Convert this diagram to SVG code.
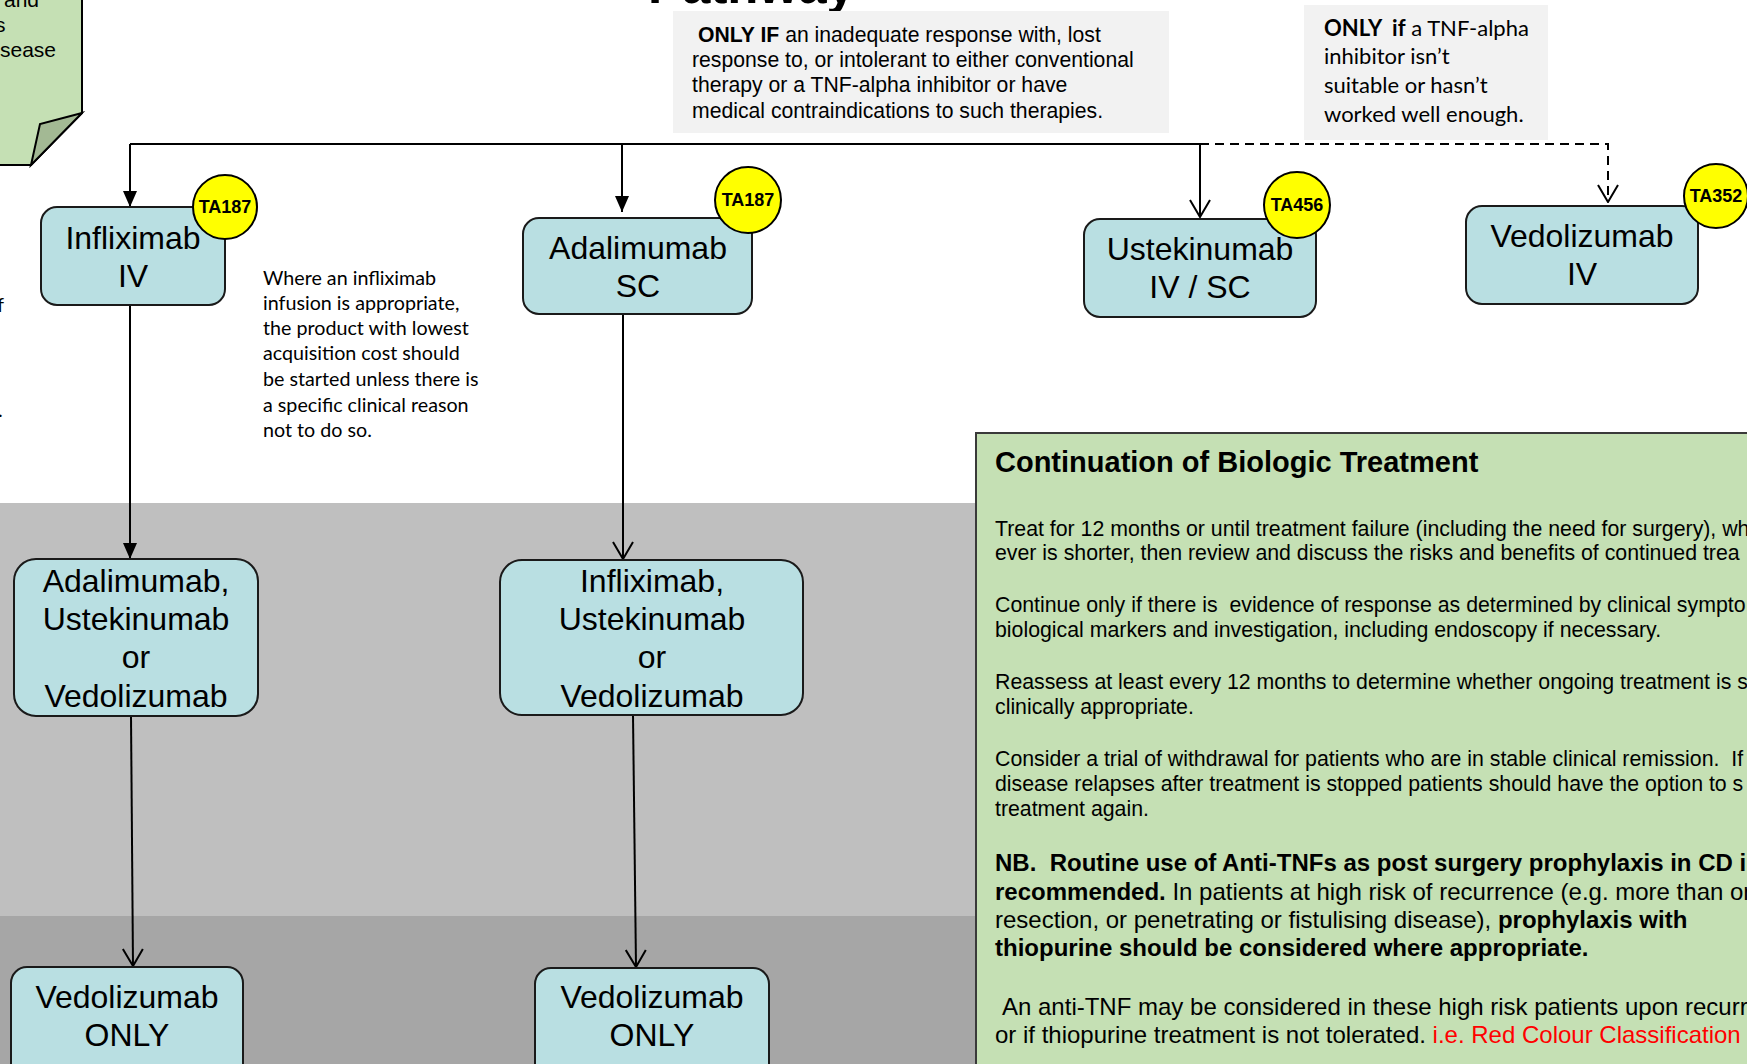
<svg xmlns="http://www.w3.org/2000/svg" width="1747" height="1064" viewBox="0 0 1747 1064">
<defs>
<style>
.node rect{fill:#b9dfe2;stroke:#1a1a1a;stroke-width:2}
.nt{font-family:"Liberation Sans",Arial,sans-serif;font-size:32px;fill:#000;text-anchor:middle}
.badge circle{fill:#ffff00;stroke:#000;stroke-width:2}
.badge text{font-family:"Liberation Sans",Arial,sans-serif;font-size:18px;font-weight:bold;text-anchor:middle;fill:#000}
.conn path{fill:none;stroke:#000;stroke-width:2}
.arial{font-family:"Liberation Sans",Arial,sans-serif;fill:#000}
.cal{font-family:Lato,"Liberation Sans",sans-serif;fill:#000}
.b{font-weight:bold}
</style>
<marker id="af" viewBox="0 0 16 14" refX="16" refY="7" markerWidth="16" markerHeight="14" markerUnits="userSpaceOnUse" orient="auto">
<path d="M0,0 L16,7 L0,14 Z" fill="#000"/>
</marker>
<marker id="ao" viewBox="0 0 19 22" refX="18" refY="11" markerWidth="19" markerHeight="22" markerUnits="userSpaceOnUse" orient="auto">
<path d="M1,1 L18,11 L1,21" fill="none" stroke="#000" stroke-width="2"/>
</marker>
</defs>
<rect x="0" y="0" width="1747" height="1064" fill="#ffffff"/>
<rect x="0" y="503" width="1000" height="413" fill="#bfbfbf"/>
<rect x="0" y="916" width="1000" height="148" fill="#a6a6a6"/>

<g id="title">
<text class="arial b" x="648" y="3" font-size="51">Pathway</text>
</g>

<g id="note-left">
<path d="M-5,-5 H82 V113 L31,165 H-5 Z" fill="#c5e0b4" stroke="#000" stroke-width="2"/>
<path d="M82,113 L40,124 L31,165 Z" fill="#a3b994" stroke="#000" stroke-width="2"/>
<text class="arial" font-size="21" x="4" y="7">and</text>
<text class="arial" font-size="21" x="-5" y="32">s</text>
<text class="arial" font-size="21" x="0" y="57">sease</text>
</g>

<g id="left-fragments">
<text class="cal" font-size="20" x="-3" y="312">f</text>
<text class="cal" font-size="20" x="-2" y="417">.</text>
</g>

<g id="condition-1">
<rect x="673" y="11" width="496" height="122" fill="#f2f2f2"/>
<text class="arial" font-size="21.2"><tspan x="698" y="42"><tspan class="b">ONLY IF</tspan> an inadequate response with, lost</tspan><tspan x="692" y="67">response to, or intolerant to either conventional</tspan><tspan x="692" y="92">therapy or a TNF-alpha inhibitor or have</tspan><tspan x="692" y="118">medical contraindications to such therapies.</tspan></text>
</g>

<g id="condition-2">
<rect x="1304" y="5" width="244" height="135" fill="#f2f2f2"/>
<text class="cal" font-size="22"><tspan x="1324" y="36"><tspan class="b" xml:space="preserve">ONLY  if</tspan> a TNF-alpha</tspan><tspan x="1324" y="64">inhibitor isn’t</tspan><tspan x="1324" y="93">suitable or hasn’t</tspan><tspan x="1324" y="122">worked well enough.</tspan></text>
</g>

<g id="infusion-note">
<text class="cal" font-size="19.7"><tspan x="263" y="285">Where an infliximab</tspan><tspan x="263" y="310">infusion is appropriate,</tspan><tspan x="263" y="335">the product with lowest</tspan><tspan x="263" y="360">acquisition cost should</tspan><tspan x="263" y="386">be started unless there is</tspan><tspan x="263" y="412">a specific clinical reason</tspan><tspan x="263" y="437">not to do so.</tspan></text>
</g>

<g id="continuation">
<rect x="976" y="433" width="790" height="650" fill="#c5e0b4" stroke="#3a3a3a" stroke-width="2"/>
<text class="arial b" font-size="29" x="995" y="472">Continuation of Biologic Treatment</text>
<text class="arial" font-size="21.3">
<tspan x="995" y="536">Treat for 12 months or until treatment failure (including the need for surgery), wh</tspan>
<tspan x="995" y="560">ever is shorter, then review and discuss the risks and benefits of continued trea</tspan>
<tspan x="995" y="612" xml:space="preserve">Continue only if there is  evidence of response as determined by clinical sympto</tspan>
<tspan x="995" y="637">biological markers and investigation, including endoscopy if necessary.</tspan>
<tspan x="995" y="689">Reassess at least every 12 months to determine whether ongoing treatment is s</tspan>
<tspan x="995" y="714">clinically appropriate.</tspan>
<tspan x="995" y="766" xml:space="preserve">Consider a trial of withdrawal for patients who are in stable clinical remission.  If</tspan>
<tspan x="995" y="791">disease relapses after treatment is stopped patients should have the option to s</tspan>
<tspan x="995" y="816">treatment again.</tspan>
</text>
<text class="arial" font-size="24">
<tspan x="995" y="871" class="b" xml:space="preserve">NB.  Routine use of Anti-TNFs as post surgery prophylaxis in CD i</tspan>
<tspan x="995" y="900"><tspan class="b">recommended.</tspan> In patients at high risk of recurrence (e.g. more than or</tspan>
<tspan x="995" y="928">resection, or penetrating or fistulising disease), <tspan class="b">prophylaxis with</tspan></tspan>
<tspan x="995" y="956" class="b">thiopurine should be considered where appropriate.</tspan>
<tspan x="1002" y="1015">An anti-TNF may be considered in these high risk patients upon recurr</tspan>
<tspan x="995" y="1043">or if thiopurine treatment is not tolerated. <tspan fill="#ff0000">i.e. Red Colour Classification</tspan></tspan>
</text>
</g>

<g id="connectors" class="conn">
<path d="M130,144 H1200"/>
<path d="M1200,144 H1608 V202" stroke-dasharray="9,6" marker-end="url(#ao)"/>
<path d="M130,144 V207" marker-end="url(#af)"/>
<path d="M622,144 V212" marker-end="url(#af)"/>
<path d="M1200,144 V217" marker-end="url(#ao)"/>
<path d="M130,305 V559" marker-end="url(#af)"/>
<path d="M623,315 V559" marker-end="url(#ao)"/>
<path d="M131,716 L133,966" marker-end="url(#ao)"/>
<path d="M633,715 L636,967" marker-end="url(#ao)"/>
</g>

<g id="infliximab-iv" class="node">
<rect x="41" y="207" width="184" height="98" rx="16"/>
<text class="nt"><tspan x="133" y="249">Infliximab</tspan><tspan x="133" y="287">IV</tspan></text>
</g>
<g id="adalimumab-sc" class="node">
<rect x="523" y="218" width="229" height="96" rx="16"/>
<text class="nt"><tspan x="638" y="259">Adalimumab</tspan><tspan x="638" y="297">SC</tspan></text>
</g>
<g id="ustekinumab" class="node">
<rect x="1084" y="219" width="232" height="98" rx="16"/>
<text class="nt"><tspan x="1200" y="260">Ustekinumab</tspan><tspan x="1200" y="298">IV / SC</tspan></text>
</g>
<g id="vedolizumab-iv" class="node">
<rect x="1466" y="206" width="232" height="98" rx="16"/>
<text class="nt"><tspan x="1582" y="247">Vedolizumab</tspan><tspan x="1582" y="285">IV</tspan></text>
</g>
<g id="second-line-a" class="node">
<rect x="14" y="559" width="244" height="157" rx="22"/>
<text class="nt"><tspan x="136" y="592">Adalimumab,</tspan><tspan x="136" y="630">Ustekinumab</tspan><tspan x="136" y="668">or</tspan><tspan x="136" y="707">Vedolizumab</tspan></text>
</g>
<g id="second-line-b" class="node">
<rect x="500" y="560" width="303" height="155" rx="22"/>
<text class="nt"><tspan x="652" y="592">Infliximab,</tspan><tspan x="652" y="630">Ustekinumab</tspan><tspan x="652" y="668">or</tspan><tspan x="652" y="707">Vedolizumab</tspan></text>
</g>
<g id="third-line-a" class="node">
<rect x="11" y="967" width="232" height="120" rx="16"/>
<text class="nt"><tspan x="127" y="1008">Vedolizumab</tspan><tspan x="127" y="1046">ONLY</tspan></text>
</g>
<g id="third-line-b" class="node">
<rect x="535" y="968" width="234" height="120" rx="16"/>
<text class="nt"><tspan x="652" y="1008">Vedolizumab</tspan><tspan x="652" y="1046">ONLY</tspan></text>
</g>

<g id="badge-ta187-a" class="badge"><circle cx="225" cy="207" r="32"/><text x="225" y="213">TA187</text></g>
<g id="badge-ta187-b" class="badge"><circle cx="748" cy="200" r="33"/><text x="748" y="206">TA187</text></g>
<g id="badge-ta456" class="badge"><circle cx="1297" cy="205" r="33"/><text x="1297" y="211">TA456</text></g>
<g id="badge-ta352" class="badge"><circle cx="1716" cy="196" r="32"/><text x="1716" y="202">TA352</text></g>
</svg>
